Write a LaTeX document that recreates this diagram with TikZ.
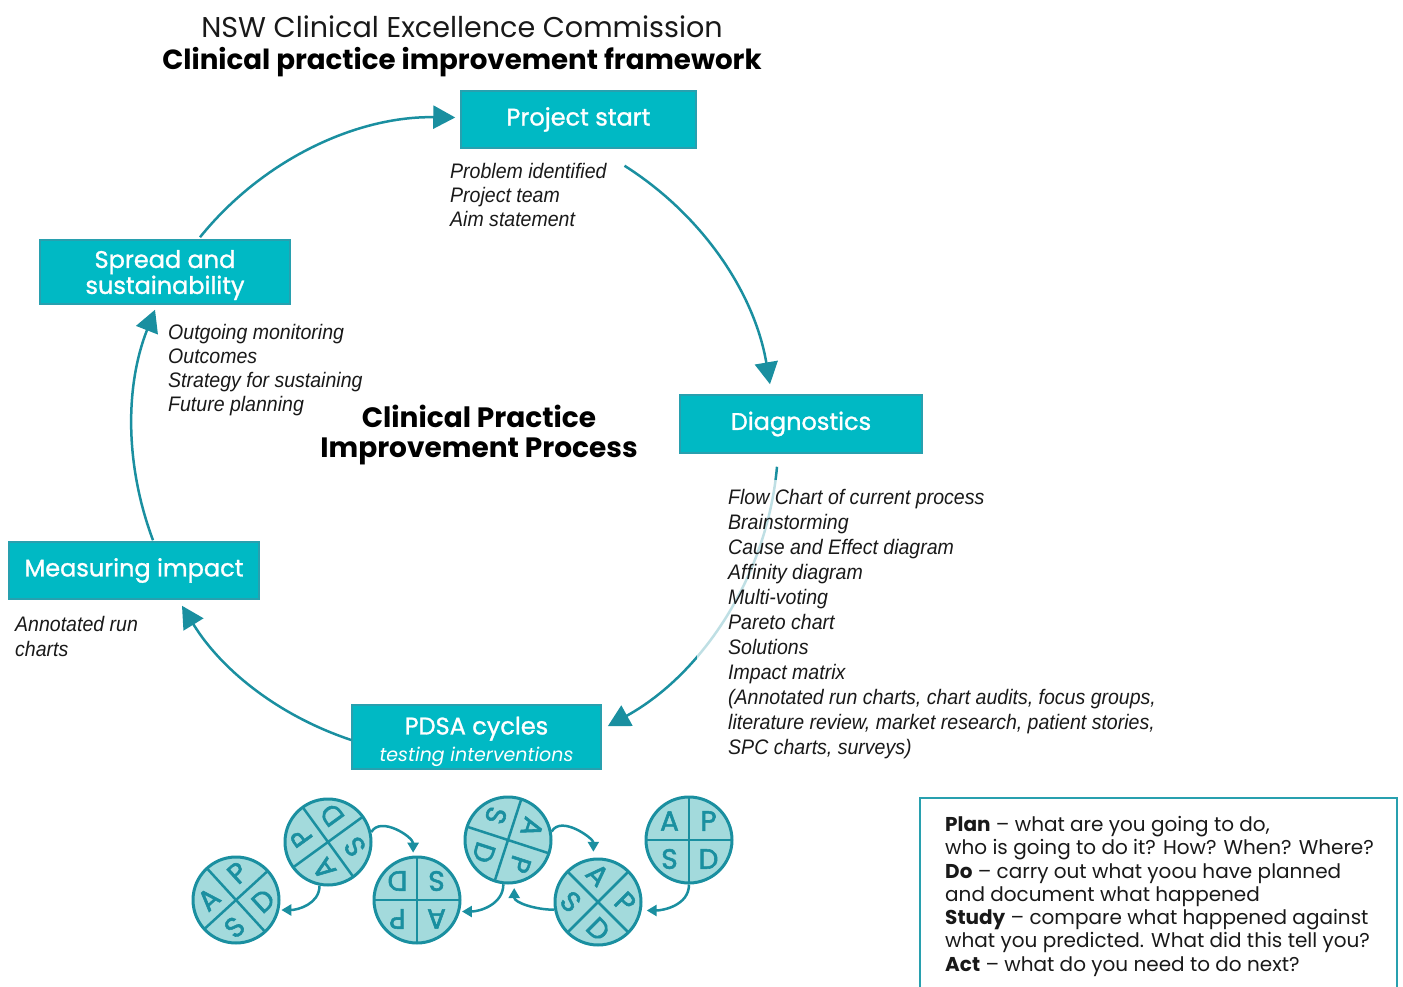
\documentclass[tikz,border=0pt]{standalone}
\usepackage{fontspec}
\setmainfont{Poppins}
\newfontfamily\mediumfont[FakeBold=1.2]{Poppins}
\newfontfamily\letterfont[FakeBold=2]{Poppins}
\newfontfamily\listfont[FakeStretch=0.93]{Liberation Sans}
\usetikzlibrary{arrows.meta}

\definecolor{boxteal}{RGB}{0,185,196}
\definecolor{boxedge}{RGB}{40,160,175}
\definecolor{arrowteal}{RGB}{26,143,160}
\definecolor{discfill}{RGB}{163,218,220}
\definecolor{inktext}{RGB}{25,25,25}

\tikzset{
  stage/.style={draw=boxedge, line width=1.5pt, fill=boxteal, text=white,
    inner sep=0pt, align=center, font=\mediumfont\fontsize{24}{26}\selectfont},
  toollist/.style={anchor=north west, inner sep=0pt, align=left, text=inktext,
    font=\listfont\itshape\fontsize{21}{24}\selectfont},
  cycle arrow/.style={draw=arrowteal, line width=2.5pt, looseness=0.9,
    -{Triangle[length=22pt,width=23pt]}},
  roll arrow/.style={draw=arrowteal, line width=2.5pt,
    -{Triangle[length=10pt,width=11pt]}},
  disc/.style={circle, minimum size=86pt, inner sep=0pt, fill=discfill,
    draw=arrowteal, line width=3pt},
  discline/.style={draw=arrowteal, line width=2.5pt},
  discletter/.style={transform shape, text=arrowteal, inner sep=0pt,
    font=\letterfont\fontsize{28}{28}\selectfont},
  pdsa/.pic={
    \draw[discline] (-43,0) -- (43,0) (0,-43) -- (0,43);
    \node[discletter] at (-19.5,-19) {A};
    \node[discletter] at (19.5,-19) {P};
    \node[discletter] at (-19.5,19) {S};
    \node[discletter] at (19.5,19) {D};
  }
}

\begin{document}
\begin{tikzpicture}[x=1pt,y=-1pt]
\useasboundingbox (0,0) rectangle (1403,987);

% headings
\node[anchor=base, text=inktext, font=\fontsize{28.6}{32}\selectfont] (title1) at (462,38)
  {NSW Clinical Excellence Commission};
\node[anchor=base, text=black, font=\bfseries\fontsize{27.7}{32}\selectfont] (title2) at (462,70)
  {Clinical practice improvement framework};
\node[anchor=north, align=center, text=black, font=\bfseries\fontsize{28}{30}\selectfont] (process)
  at (479,402) {Clinical Practice\\Improvement Process};

% process stages
\node[stage, minimum width=235pt, minimum height=57pt] (ps) at (578.5,119.5) {Project start};
\node[stage, minimum width=242pt, minimum height=58pt] (diag) at (801,424) {Diagnostics};
\node[stage, minimum width=249pt, minimum height=64pt] (pdsa) at (476.5,737)
  {\rule{0pt}{27pt}PDSA cycles\\[1pt]{\fontfamily{\rmdefault}\itshape\fontsize{19}{20}\selectfont testing interventions}};
\node[stage, minimum width=250pt, minimum height=57pt] (meas) at (134,570.5) {Measuring impact};
\node[stage, minimum width=250pt, minimum height=64pt] (spread) at (165,272)
  {\rule{0pt}{24pt}Spread and\\sustainability};

% ends of the cycle arrows
\coordinate (a1s) at ([shift={(46,17)}]ps.south);
\coordinate (a1e) at ([shift={(-31,-10)}]diag.north);
\coordinate (a2s) at ([shift={(-24,13)}]diag.south);
\coordinate (a2e) at ([shift={(6,22)}]pdsa.north east);
\coordinate (a3s) at ([shift={(0,3)}]pdsa.west);
\coordinate (a3e) at ([shift={(48,6)}]meas.south);
\coordinate (a4s) at ([shift={(19,-1)}]meas.north);
\coordinate (a4e) at ([shift={(-10,5)}]spread.south);
\coordinate (a5s) at ([shift={(35,-2)}]spread.north);
\coordinate (a5e) at ([shift={(-5,-2)}]ps.west);

\draw[cycle arrow] (a1s) to[bend left=24] (a1e);
\draw[cycle arrow] (a2s) to[bend left=28] (a2e);
\draw[cycle arrow] (a3s) to[bend left=20] (a3e);
\draw[cycle arrow] (a4s) to[bend left=21] (a4e);
\draw[cycle arrow] (a5s) to[bend left=26] (a5e);

% tools used at each stage
\node[toollist] (pstools) at (450,163)
  {Problem identified\\Project team\\Aim statement};
\node[toollist, inner xsep=31pt, inner ysep=9pt, fill=white, fill opacity=0.72,
  text opacity=1, font=\listfont\itshape\fontsize{21}{25}\selectfont] (diagtools) at (697,480)
  {Flow Chart of current process\\Brainstorming\\Cause and Effect diagram\\Affinity diagram\\
   Multi-voting\\Pareto chart\\Solutions\\Impact matrix\\
   (Annotated run charts, chart audits, focus groups,\\
   literature review, market research, patient stories,\\SPC charts, surveys)};
\node[toollist, font=\listfont\itshape\fontsize{21}{25}\selectfont] (meastools) at (15,616)
  {Annotated run\\charts};
\node[toollist] (spreadtools) at (168,324)
  {Outgoing monitoring\\Outcomes\\Strategy for sustaining\\Future planning};

% rolling PDSA wheels
\node[disc] (c1) at (236,900) {};
\node[disc] (c2) at (328,842) {};
\node[disc] (c3) at (417,900) {};
\node[disc] (c4) at (508,840) {};
\node[disc] (c5) at (598,902) {};
\node[disc] (c6) at (689,840) {};
\pic[rotate=42.5] at (c1.center) {pdsa};
\pic[rotate=-234] at (c2.center) {pdsa};
\pic[rotate=180] at (c3.center) {pdsa};
\pic[rotate=-108] at (c4.center) {pdsa};
\pic[rotate=-45] at (c5.center) {pdsa};
\pic at (c6.center) {pdsa};

\draw[roll arrow, shorten >=3pt] (c2.13) to[out=60, in=90] (c3.95);
\draw[roll arrow, shorten >=2pt] (c2.-101) to[out=-90, in=0] (c1.-13);
\draw[roll arrow, shorten >=2pt] (c4.-96) to[out=-90, in=0] (c3.-15);
\draw[roll arrow, shorten >=4pt] (c5.190) to[out=180, in=-90] (c4.-82);
\draw[roll arrow, shorten >=6pt] (c4.11) to[out=60, in=90] (c5.96);
\draw[roll arrow, shorten >=5pt] (c6.-90) to[out=-90, in=0] (c5.-11);

% PDSA key
\node[draw=boxedge, line width=2pt, minimum width=477pt, minimum height=200pt,
  anchor=north west] (keyframe) at (919,797) {};
\node[anchor=north west, inner sep=0pt, align=left, text=inktext,
  font=\fontsize{20}{23.3}\selectfont] (key) at ([shift={(26,19)}]keyframe.north west)
  {\textbf{Plan} – what are you going to do,\\
   who is going to do it? How? When? Where?\\
   \textbf{Do} – carry out what yoou have planned\\
   and document what happened\\
   \textbf{Study} – compare what happened against\\
   what you predicted. What did this tell you?\\
   \textbf{Act} – what do you need to do next?};
\end{tikzpicture}
\end{document}
